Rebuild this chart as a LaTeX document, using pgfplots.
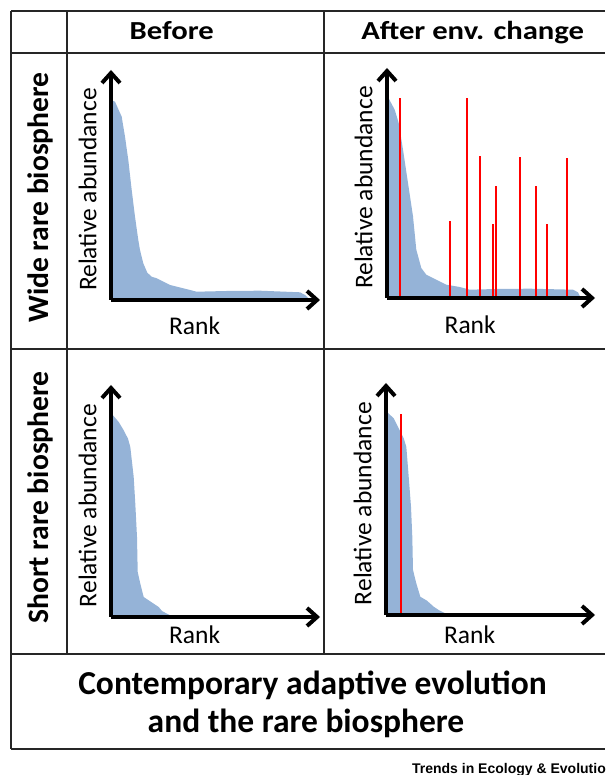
\documentclass[border=0pt]{standalone}
\usepackage{fontspec}
\setmainfont{Carlito}
\newfontfamily\footfont{Liberation Sans}
\usepackage{pgfplots}
\pgfplotsset{compat=1.18}
\usetikzlibrary{arrows.meta}

\definecolor{areablue}{RGB}{149,179,215}
\definecolor{tableline}{RGB}{38,38,38}

% one small rank-abundance panel, units are pixels of the reference
\pgfplotsset{rankplot/.style={
    scale only axis, anchor=south west,
    axis lines=left, axis on top,
    axis line style={line width=2pt, -{Straight Barb[length=5pt,width=9pt]}},
    xtick=\empty, ytick=\empty,
    xmin=0, ymin=0, clip=false,
    xlabel={Rank}, ylabel={Relative abundance},
    label style={font=\fontsize{12.75pt}{15pt}\selectfont},
    ylabel style={at={(axis description cs:0,0.48)}, anchor=center, yshift=11.75pt},
    xlabel style={at={(axis description cs:0.4,0)}, anchor=center},
}}

\begin{document}
\begin{tikzpicture}
\useasboundingbox (0,0) rectangle (302.5pt,387.5pt);

\begin{scope}[x=0.5pt, y=-0.5pt, shift={(0,387.5pt)}]
  \draw[line width=1pt, tableline]
    (11,11) -- (605,11)  (11,53) -- (605,53)  (11,349) -- (605,349)
    (11,654) -- (605,654)  (11,749) -- (605,749)
    (11,11) -- (11,749)  (67,11) -- (67,654)  (324,11) -- (324,654);

  \node[anchor=base] at (171.8,39.5)
    {\scalebox{1.18}[1]{\bfseries\fontsize{13pt}{15pt}\selectfont Before}};
  \node[anchor=base] at (472.7,39.5)
    {\scalebox{1.18}[1]{\bfseries\fontsize{13pt}{15pt}\selectfont After env. change}};

  \node[rotate=90, anchor=base] at (49,197.5)
    {\bfseries\fontsize{14.8pt}{17pt}\selectfont Wide rare biosphere};
  \node[rotate=90, anchor=base] at (49,497.5)
    {\bfseries\fontsize{14.8pt}{17pt}\selectfont Short rare biosphere};

  \node[anchor=base] at (312.5,695)
    {\bfseries\fontsize{16.75pt}{19pt}\selectfont Contemporary adaptive evolution};
  \node[anchor=base] at (306,733)
    {\bfseries\fontsize{16.75pt}{19pt}\selectfont and the rare biosphere};

  \begin{scope}
    \clip (0,755) rectangle (605,775);
    \node[anchor=base west, inner sep=0pt] at (411.7,773)
      {\footfont\bfseries\fontsize{7pt}{8pt}\selectfont Trends in Ecology \& Evolution};
  \end{scope}
\end{scope}

% wide rare biosphere, before
\begin{axis}[rankplot, at={(55.5pt,237.5pt)}, width=104.5pt, height=115pt,
  xmax=209, ymax=230, xlabel style={yshift=-13pt}]
\addplot[fill=areablue, draw=none] coordinates {
  (0,200) (4,198.3) (10.7,183.3) (14,163.3) (17.3,140) (20.7,110) (24,83.3)
  (27.3,60) (29,50) (32.3,36.7) (36.3,27.3) (40.7,23.3) (45.7,21.7) (59,15)
  (72.3,11.7) (85.7,8.3) (115.7,9) (149,9.3) (189,7.7) (194,5) (198.3,0.7)
} \closedcycle;
\end{axis}

% wide rare biosphere, after
\begin{axis}[rankplot, at={(193.5pt,238.5pt)}, width=104pt, height=115pt,
  xmax=208, ymax=230, xlabel style={yshift=-13.5pt}]
\addplot[fill=areablue, draw=none] coordinates {
  (0,199) (2,199) (7.7,188.3) (11.7,175) (16,148.3) (21,115) (26,81.7)
  (29.3,48.3) (34.3,30) (39.3,23.3) (49.3,18.3) (59.3,13.3) (72.7,11)
  (82.7,8.3) (109.3,9) (142.7,9.3) (186,8.3) (191,5.7) (193.3,1)
} \closedcycle;
\addplot[ycomb, red, line width=1pt, mark=none] coordinates {
  (13.3,200) (63.3,76.7) (80.3,200) (93.3,142.3) (106,74.3)
  (109.3,111.7) (133.3,141) (148.7,111.7) (160,74.3) (179.7,139.7)
};
\end{axis}

% short rare biosphere, before
\begin{axis}[rankplot, at={(55.5pt,79pt)}, width=104.5pt, height=116pt,
  xmax=209, ymax=232, xlabel style={yshift=-9pt}]
\addplot[fill=areablue, draw=none] coordinates {
  (0,201.7) (2,201.7) (7.7,195) (12.7,186.7) (17,178.3) (19.3,170) (22.7,140)
  (24.3,113.3) (26,80) (26.7,45) (29.3,33.3) (32.7,20) (36.7,17.3)
  (42.7,13.3) (47.7,10) (51,6) (56,3.3) (61,0.7)
} \closedcycle;
\end{axis}

% short rare biosphere, after
\begin{axis}[rankplot, at={(193pt,80pt)}, width=104.5pt, height=116pt,
  xmax=209, ymax=232, xlabel style={yshift=-10pt}]
\addplot[fill=areablue, draw=none] coordinates {
  (0,202.3) (1.7,202.3) (7.7,196.7) (12.7,186.7) (17.7,176.7) (20.3,168.3)
  (22.7,138.3) (25,108.3) (26.3,78.3) (27,45) (30.3,31.7) (34.3,18.3)
  (41,14.3) (47.7,8.3) (52.7,5) (59.3,1.7)
} \closedcycle;
\addplot[ycomb, red, line width=1pt, mark=none] coordinates {(15.3,201)};
\end{axis}

\end{tikzpicture}
\end{document}
